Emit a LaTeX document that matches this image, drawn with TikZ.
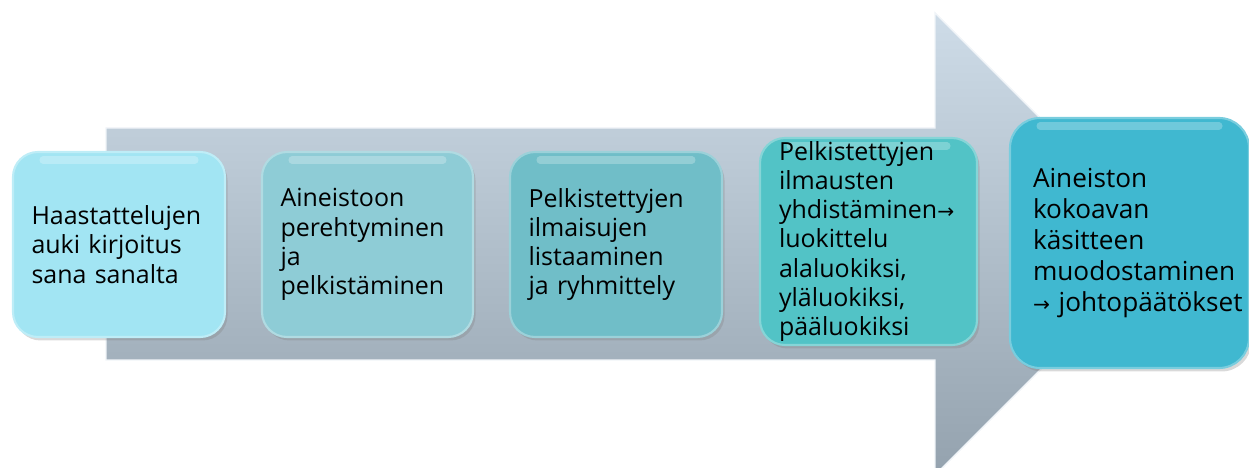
\documentclass[tikz,border=0pt]{standalone}
\usepackage{fontspec}
\setmainfont{Open Sans}
\newfontfamily\arrowfont{DejaVu Sans}
\usetikzlibrary{shadows}

\definecolor{arrowtop}{HTML}{CEDCE8}
\definecolor{arrowbottom}{HTML}{94A2AE}
\definecolor{stepa}{HTML}{A2E5F3}
\definecolor{stepb}{HTML}{8ECCD6}
\definecolor{stepc}{HTML}{70BEC8}
\definecolor{stepd}{HTML}{52C3C6}
\definecolor{stepe}{HTML}{40B8D0}

\tikzset{
  arrowbody/.style={top color=arrowtop, bottom color=arrowbottom, draw=white!70!arrowtop, line width=0.8},
  stepbox/.style={rounded corners=0.5cm, fill=#1, draw=white!30!#1, line width=1.2,
    drop shadow={shadow xshift=0.05cm, shadow yshift=-0.07cm, opacity=0.3},
    path picture={\draw[white, opacity=0.25, line width=4, line cap=round]
      ([xshift=0.6cm, yshift=-0.16cm]path picture bounding box.north west)
      -- ([xshift=-0.6cm, yshift=-0.16cm]path picture bounding box.north east);},
    align=left, inner xsep=0.37cm, inner ysep=0pt, font=\fontsize{14.2}{16.6}\selectfont},
}
\newcommand{\rarr}{{\arrowfont\fontsize{11.5}{11.5}\selectfont →}}

\begin{document}
\begin{tikzpicture}
  \clip (0, 0) rectangle (24.98, 9.36);

  % arrow
  \draw[arrowbody] (2.12, 6.8) -- (18.7, 6.8) -- (18.7, 9.1) -- (23.32, 4.48)
    -- (18.7, -0.14) -- (18.7, 2.16) -- (2.12, 2.16) -- cycle;

  % steps
  \node[stepbox=stepa, text width=3.5cm, minimum height=3.7cm] (auki) at (2.38, 4.47)
    {Haastattelujen\\auki kirjoitus\\sana sanalta};
  \node[stepbox=stepb, text width=3.48cm, minimum height=3.7cm] (pelkistys) at (7.35, 4.47)
    {Aineistoon\\perehtyminen\\ja\\pelkistäminen};
  \node[stepbox=stepc, text width=3.5cm, minimum height=3.7cm] (ryhmittely) at (12.32, 4.47)
    {Pelkistettyjen\\ilmaisujen\\listaaminen\\ja ryhmittely};
  \node[stepbox=stepd, text width=3.58cm, minimum height=4.14cm, inner xsep=0.38cm] (luokittelu) at (17.37, 4.53)
    {Pelkistettyjen\\ilmausten\\\mbox{yhdistäminen\rarr}\\luokittelu\\alaluokiksi,\\yläluokiksi,\\pääluokiksi};
  \node[stepbox=stepe, text width=3.86cm, minimum height=5cm, inner xsep=0.46cm, rounded corners=0.6cm,
    font=\fontsize{14.9}{17.6}\selectfont] (kasite) at (22.59, 4.5)
    {Aineiston\\kokoavan\\käsitteen\\\mbox{muodostaminen}\\\mbox{\rarr\ johtopäätökset}};
\end{tikzpicture}
\end{document}
